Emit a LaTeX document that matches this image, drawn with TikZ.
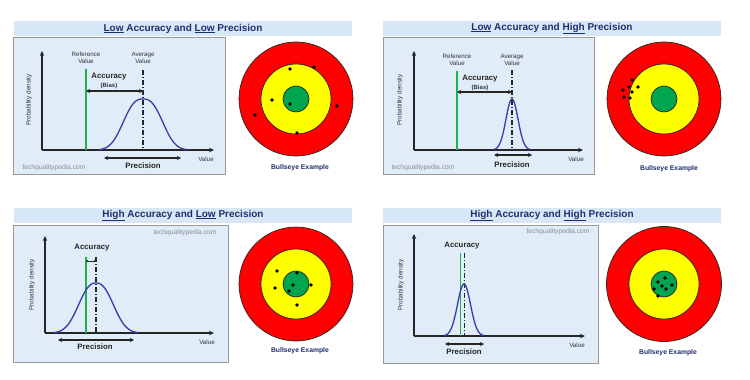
\documentclass[tikz,border=0pt]{standalone}
\usepackage{fontspec}
\setmainfont{Liberation Sans}
\usetikzlibrary{arrows.meta}
\definecolor{navy}{HTML}{1F2F6E}
\definecolor{bandblue}{HTML}{D8E7F6}
\definecolor{panelblue}{HTML}{E0ECF8}
\definecolor{refgreen}{HTML}{22B14C}
\definecolor{curveblue}{HTML}{3A3DA8}
\definecolor{bullred}{HTML}{FF0000}
\definecolor{bullyellow}{HTML}{FFFF00}
\definecolor{bullgreen}{HTML}{00A550}
\tikzset{
  band/.style={fill=bandblue, draw=none, minimum width=338pt, minimum height=15pt, inner sep=0pt,
    font=\bfseries\fontsize{10}{12}\selectfont, text=navy},
  panel/.style={fill=panelblue, draw=black!40, line width=0.9pt, inner sep=0pt, anchor=north west},
  lbl/.style={font=\fontsize{6.2}{6.8}\selectfont, text=black!80, align=center, inner sep=0pt},
  ylbl/.style={font=\fontsize{6.3}{7}\selectfont, text=black!80, rotate=90, inner sep=0pt},
  axisarrow/.style={-{Stealth[length=5pt,width=4.5pt]}, line width=1.4pt, draw=black!85},
  refline/.style={draw=refgreen, line width=1.6pt},
  avgline/.style={draw=black!85, dash pattern=on 5pt off 2pt on 1pt off 2pt, line width=1.2pt},
  gauss/.style={draw=curveblue, line width=1.3pt},
  dimarrow/.style={{Stealth[length=4pt,width=4pt]}-{Stealth[length=4pt,width=4pt]}, line width=1.1pt, draw=black!85},
  smalldim/.style={{Stealth[length=2pt,width=2.5pt]}-{Stealth[length=2pt,width=2.5pt]}, line width=0.7pt, draw=black!85},
  acclbl/.style={font=\bfseries\fontsize{7.8}{9}\selectfont, text=black!85, inner sep=0pt},
  biaslbl/.style={font=\bfseries\fontsize{6}{7}\selectfont, text=black!80, inner sep=0pt},
  preclbl/.style={font=\bfseries\fontsize{7.8}{9}\selectfont, text=black!85, inner sep=0pt},
  wm/.style={font=\fontsize{6.7}{8}\selectfont, text=black!45, inner sep=0pt},
  ring/.style={circle, draw=black!85, line width=0.7pt, inner sep=0pt},
  hit/.style={circle, fill=black, inner sep=0pt, minimum size=3.8pt},
  bcap/.style={font=\bfseries\fontsize{6.8}{8}\selectfont, text=navy, inner sep=0pt}
}
\begin{document}
\begin{tikzpicture}[x=1pt,y=-1pt]
\useasboundingbox (0,0) rectangle (750,380);
\fill[white] (0,0) rectangle (750,380);

%================ Q1: Low accuracy, low precision
\node[band] (t1) at (183,28.5) {\underline{Low} Accuracy and \underline{Low} Precision};
\node[panel, minimum width=212pt, minimum height=137pt] (p1) at (13,37) {};
\coordinate (o1) at (42,150);
\coordinate (ytop1) at (42,51);
\coordinate (xend1) at (214,150);
\draw[axisarrow] (o1) -- (ytop1);
\draw[axisarrow] (o1) -- (xend1);
\node[ylbl] (pd1) at (29,100) {Probability density};
\node[lbl] (val1) at (206,159) {Value};
\node[lbl] (ref1) at (86,58) {Reference\\Value};
\node[lbl] (avg1) at (143,58) {Average\\Value};
\coordinate (g1a) at (86,69); \coordinate (g1b) at (86,150);
\draw[refline] (g1a) -- (g1b);
\coordinate (a1a) at (143,70); \coordinate (a1b) at (143,150);
\draw[avgline] (a1a) -- (a1b);
\draw[gauss] plot[domain=-44:44, samples=90, smooth] ({143+\x},{150-51*exp(-(abs(\x)/24)^2.6)});
\coordinate (d1a) at (86,91); \coordinate (d1b) at (143,91);
\draw[dimarrow] (d1a) -- (d1b);
\node[acclbl] (acc1) at (109,77) {Accuracy};
\node[biaslbl] (bias1) at (109,85.5) {(Bias)};
\coordinate (pr1a) at (104,158); \coordinate (pr1b) at (181,158);
\draw[dimarrow] (pr1a) -- (pr1b);
\node[preclbl] (prec1) at (143,166) {Precision};
\node[wm] (wm1) at (54,168) {techqualitypedia.com};
\node[ring, fill=bullred, minimum size=114pt] (b1o) at (296,99) {};
\node[ring, fill=bullyellow, minimum size=70pt] (b1y) at (b1o) {};
\node[ring, fill=bullgreen, minimum size=26pt] (b1g) at (b1o) {};
\node[hit] (h11) at (290,69) {};
\node[hit] (h12) at (314,67) {};
\node[hit] (h13) at (272,100) {};
\node[hit] (h14) at (290,104) {};
\node[hit] (h15) at (337,106) {};
\node[hit] (h16) at (255,115) {};
\node[hit] (h17) at (297,133) {};
\node[bcap] (bc1) at (300,168) {Bullseye Example};

%================ Q2: Low accuracy, high precision
\node[band] (t2) at (552,28.5) {\underline{Low} Accuracy and \underline{High} Precision};
\node[panel, minimum width=211pt, minimum height=137pt] (p2) at (383,37) {};
\coordinate (o2) at (414,150);
\coordinate (ytop2) at (414,51);
\coordinate (xend2) at (583,150);
\draw[axisarrow] (o2) -- (ytop2);
\draw[axisarrow] (o2) -- (xend2);
\node[ylbl] (pd2) at (400,100) {Probability density};
\node[lbl] (val2) at (576,159) {Value};
\node[lbl] (ref2) at (457,60) {Reference\\Value};
\node[lbl] (avg2) at (512,60) {Average\\Value};
\coordinate (g2a) at (457,71); \coordinate (g2b) at (457,150);
\draw[refline] (g2a) -- (g2b);
\coordinate (a2a) at (512,70); \coordinate (a2b) at (512,150);
\draw[avgline] (a2a) -- (a2b);
\draw[gauss] plot[domain=-18:18, samples=70, smooth] ({512+\x},{150-51*exp(-(\x*\x)/(2*6*6))});
\coordinate (d2a) at (457,92); \coordinate (d2b) at (512,92);
\draw[dimarrow] (d2a) -- (d2b);
\node[acclbl] (acc2) at (480,79) {Accuracy};
\node[biaslbl] (bias2) at (480,87.5) {(Bias)};
\coordinate (pr2a) at (494,155); \coordinate (pr2b) at (532,155);
\draw[dimarrow] (pr2a) -- (pr2b);
\node[preclbl] (prec2) at (512,165) {Precision};
\node[wm] (wm2) at (423,168) {techqualitypedia.com};
\node[ring, fill=bullred, minimum size=114pt] (b2o) at (664,99) {};
\node[ring, fill=bullyellow, minimum size=70pt] (b2y) at (b2o) {};
\node[ring, fill=bullgreen, minimum size=26pt] (b2g) at (b2o) {};
\node[hit] (h21) at (632,80) {};
\node[hit] (h22) at (623,90) {};
\node[hit] (h23) at (629,87) {};
\node[hit] (h24) at (638,87) {};
\node[hit] (h25) at (632,92) {};
\node[hit] (h26) at (624,97) {};
\node[hit] (h27) at (630,98) {};
\node[bcap] (bc2) at (669,169) {Bullseye Example};

%================ Q3: High accuracy, low precision
\node[band] (t3) at (183,215.5) {\underline{High} Accuracy and \underline{Low} Precision};
\node[panel, minimum width=215pt, minimum height=137pt] (p3) at (13,225) {};
\coordinate (o3) at (45,333);
\coordinate (ytop3) at (45,236);
\coordinate (xend3) at (214,333);
\draw[axisarrow] (o3) -- (ytop3);
\draw[axisarrow] (o3) -- (xend3);
\node[ylbl] (pd3) at (32,285) {Probability density};
\node[lbl] (val3) at (207,342) {Value};
\coordinate (g3a) at (86,257); \coordinate (g3b) at (86,333);
\draw[refline] (g3a) -- (g3b);
\coordinate (a3a) at (96,257); \coordinate (a3b) at (96,333);
\draw[avgline] (a3a) -- (a3b);
\draw[gauss] plot[domain=-42:42, samples=90, smooth] ({96+\x},{333-50*exp(-(abs(\x)/22)^2.4)});
\coordinate (d3a) at (86,261); \coordinate (d3b) at (96,261);
\draw[smalldim] (d3a) -- (d3b);
\node[acclbl] (acc3) at (92,248) {Accuracy};
\coordinate (pr3a) at (58,340); \coordinate (pr3b) at (134,340);
\draw[dimarrow] (pr3a) -- (pr3b);
\node[preclbl] (prec3) at (95,347) {Precision};
\node[wm] (wm3) at (185,233) {techqualitypedia.com};
\node[ring, fill=bullred, minimum size=114pt] (b3o) at (296,284) {};
\node[ring, fill=bullyellow, minimum size=70pt] (b3y) at (b3o) {};
\node[ring, fill=bullgreen, minimum size=26pt] (b3g) at (b3o) {};
\node[hit] (h31) at (277,271) {};
\node[hit] (h32) at (297,273) {};
\node[hit] (h33) at (275,288) {};
\node[hit] (h34) at (293,285) {};
\node[hit] (h35) at (289,291) {};
\node[hit] (h36) at (311,285) {};
\node[hit] (h37) at (297,305) {};
\node[bcap] (bc3) at (300,351) {Bullseye Example};

%================ Q4: High accuracy, high precision
\node[band] (t4) at (552,215.5) {\underline{High} Accuracy and \underline{High} Precision};
\node[panel, minimum width=215pt, minimum height=138pt] (p4) at (383,225) {};
\coordinate (o4) at (414,336);
\coordinate (ytop4) at (414,234);
\coordinate (xend4) at (585,336);
\draw[axisarrow] (o4) -- (ytop4);
\draw[axisarrow] (o4) -- (xend4);
\node[ylbl] (pd4) at (401,285) {Probability density};
\node[lbl] (val4) at (577,345) {Value};
\coordinate (g4a) at (460.5,253); \coordinate (g4b) at (460.5,336);
\draw[refline] (g4a) -- (g4b);
\coordinate (a4a) at (464.5,253); \coordinate (a4b) at (464.5,336);
\draw[avgline] (a4a) -- (a4b);
\draw[gauss] plot[domain=-20:20, samples=70, smooth] ({464+\x},{336-52*exp(-(\x*\x)/(2*6.5*6.5))});
\node[acclbl] (acc4) at (462,246) {Accuracy};
\coordinate (pr4a) at (445,344); \coordinate (pr4b) at (484,344);
\draw[dimarrow] (pr4a) -- (pr4b);
\node[preclbl] (prec4) at (464,352) {Precision};
\node[wm] (wm4) at (558,232) {techqualitypedia.com};
\node[ring, fill=bullred, minimum size=115pt] (b4o) at (664,284) {};
\node[ring, fill=bullyellow, minimum size=70pt] (b4y) at (b4o) {};
\node[ring, fill=bullgreen, minimum size=26pt] (b4g) at (b4o) {};
\node[hit] (h41) at (658,282) {};
\node[hit] (h42) at (665,278) {};
\node[hit] (h43) at (654,289) {};
\node[hit] (h44) at (662,286) {};
\node[hit] (h45) at (666,289) {};
\node[hit] (h46) at (672,285) {};
\node[hit] (h47) at (658,296) {};
\node[bcap] (bc4) at (668,353) {Bullseye Example};
\end{tikzpicture}
\end{document}
